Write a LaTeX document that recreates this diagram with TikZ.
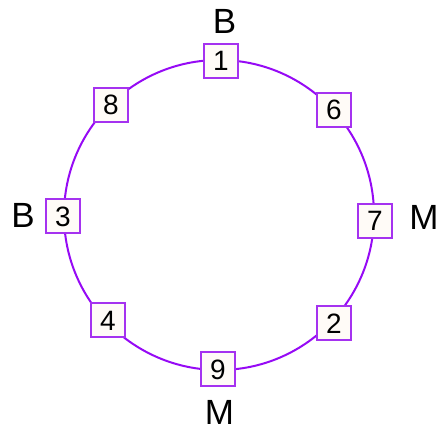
\documentclass[tikz,border=0pt]{standalone}
\usepackage{fontspec}
\setmainfont{Liberation Sans}
\definecolor{ringc}{RGB}{150,10,245}
\definecolor{boxc}{RGB}{165,50,240}
\definecolor{boxfill}{RGB}{255,251,247}
\begin{document}
\begin{tikzpicture}[x=1pt,y=-1pt,
  numbox/.style={draw=boxc,line width=1.4pt,fill=boxfill,minimum width=34pt,minimum height=34pt,inner sep=0pt,text height=20pt,text depth=0pt,font=\fontsize{28}{31}\selectfont},
  tag/.style={inner sep=0pt,text height=25pt,text depth=0pt,font=\fontsize{35}{39}\selectfont}]
\useasboundingbox (0,0) rectangle (440,428);
\coordinate (c) at (219,215);
\draw[ringc,line width=2pt] (c) circle[radius=155];
\node[numbox] (n1) at (221,61) {1};
\node[numbox] (n6) at (334,110) {6};
\node[numbox] (n7) at (375,221) {7};
\node[numbox] (n2) at (334,323) {2};
\node[numbox] (n9) at (218,369) {9};
\node[numbox] (n4) at (108,320) {4};
\node[numbox] (n3) at (63,216) {3};
\node[numbox] (n8) at (111,105) {8};
\node[tag] (b1) at (224.5,21.5) {B};
\node[tag] (m1) at (424,217) {M};
\node[tag] (b2) at (23,215) {B};
\node[tag] (m2) at (219.5,412) {M};
\end{tikzpicture}
\end{document}
